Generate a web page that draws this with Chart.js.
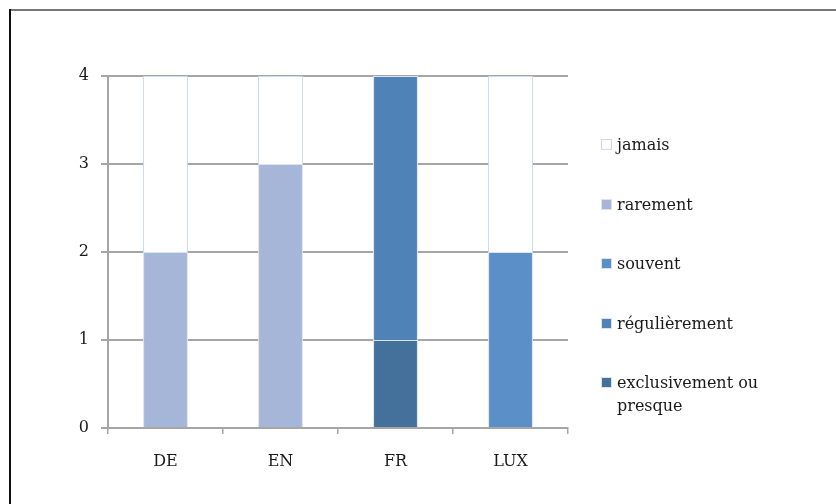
<!DOCTYPE html>
<html>
<head>
<meta charset="utf-8">
<script src="https://cdn.jsdelivr.net/npm/chart.js@4"></script>
<style>
    body { margin: 0; background: #fff; }
    #wrap { position: relative; width: 836px; height: 504px; }
    #frameTop { position: absolute; left: 9px; top: 9px; width: 827px; height: 2px; background: #777; }
    #frameLeft { position: absolute; left: 9px; top: 9px; width: 2px; height: 495px; background: #111; }
    #legend { position: absolute; left: 601px; top: 133px; font-family: "DejaVu Serif", serif; font-size: 16px; color: #1a1a1a; }
    .item { position: relative; height: 59.5px; padding-left: 16px; line-height: 23px; }
    .box { position: absolute; left: 0; top: 6px; width: 9px; height: 9px; }
</style>
</head>
<body>
<div id="wrap">
    <canvas id="chart" width="836" height="504"></canvas>
    <div id="frameTop"></div>
    <div id="frameLeft"></div>
    <div id="legend"></div>
</div>
<script>
// donnees
const categories = ['DE', 'EN', 'FR', 'LUX'];
const seriesNames = ['exclusivement ou presque', 'r\u00e9guli\u00e8rement', 'souvent', 'rarement', 'jamais'];
const exclusivement = [0, 0, 1, 0];
const regulierement = [0, 0, 3, 0];
const souvent = [0, 0, 0, 2];
const rarement = [2, 3, 0, 0];
const jamais = [2, 1, 0, 2];
const yTicks = [0, 1, 2, 3, 4];

const fills = ['#44709c', '#4f83b8', '#5b8fc8', '#a5b6d9', '#ffffff'];
const borders = ['#dbe5f1', '#dbe5f1', '#dbe5f1', '#dbe5f1', '#c9dbf0'];
const values = [exclusivement, regulierement, souvent, rarement, jamais];

const datasets = seriesNames.map(function(name, i) {
    return {
        label: name,
        data: values[i],
        backgroundColor: fills[i],
        borderColor: borders[i],
        borderWidth: 1,
        barPercentage: 0.39,
        categoryPercentage: 1
    };
});

// legende (ordre inverse)
const legendEl = document.getElementById('legend');
for (let i = seriesNames.length - 1; i >= 0; i--) {
    const item = document.createElement('div');
    item.className = 'item';
    const text = seriesNames[i] === 'exclusivement ou presque' ? 'exclusivement ou<br>presque' : seriesNames[i];
    item.innerHTML = '<span class="box" style="background:' + fills[i] + ';border:1px solid ' + borders[i] + '"></span>' + text;
    legendEl.appendChild(item);
}

const font = { family: '"DejaVu Serif", serif', size: 16 };

new Chart(document.getElementById('chart'), {
    type: 'bar',
    data: { labels: categories, datasets: datasets },
    options: {
        responsive: false,
        animation: false,
        layout: { padding: { left: 0, top: 76, right: 268, bottom: 0 } },
        plugins: {
            legend: { display: false },
            tooltip: { enabled: false }
        },
        scales: {
            x: {
                stacked: true,
                afterFit: function(scale) { scale.height = 76; },
                grid: {
                    offset: true,
                    drawOnChartArea: false,
                    drawTicks: true,
                    tickLength: 6,
                    color: '#a6a6a6',
                    lineWidth: 1.5
                },
                border: { color: '#a6a6a6', width: 2 },
                ticks: { color: '#1a1a1a', font: font, padding: 18 }
            },
            y: {
                stacked: true,
                min: 0,
                max: 4,
                afterFit: function(scale) { scale.width = 108; },
                afterBuildTicks: function(scale) {
                    scale.ticks = yTicks.map(function(v) { return { value: v }; });
                },
                grid: {
                    color: '#a6a6a6',
                    lineWidth: 2,
                    tickLength: 7
                },
                border: { color: '#a6a6a6', width: 2 },
                ticks: { color: '#1a1a1a', font: font, padding: 12 }
            }
        }
    }
});
</script>
</body>
</html>
